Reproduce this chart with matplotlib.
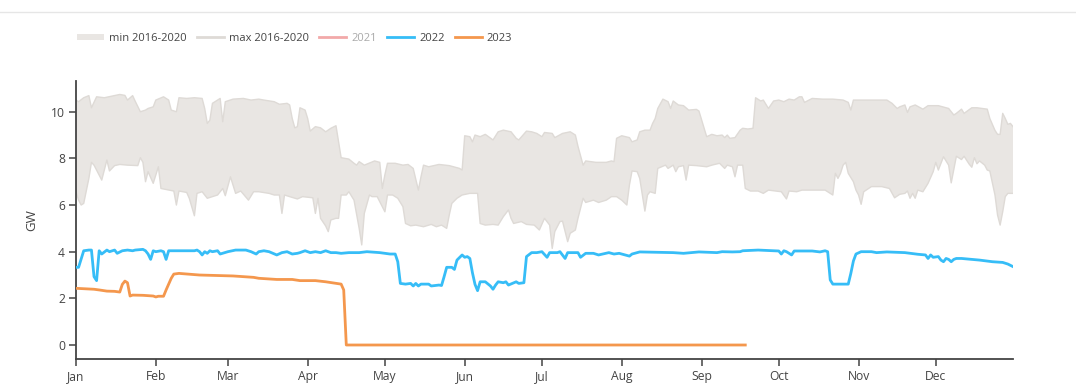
import numpy as np
import pandas as pd
import matplotlib
matplotlib.use("Agg")
import matplotlib.pyplot as plt
import matplotlib.dates as mdates
from matplotlib.lines import Line2D
from matplotlib.patches import Patch

plt.rcParams["font.family"] = ["Open Sans", "DejaVu Sans"]

# Daily nuclear availability in GW, indexed by day of year (0 = 1 Jan)
max_day = [0, 1, 3, 5, 6, 8, 11, 17, 19, 20, 22, 23, 25, 27, 28, 30, 31, 34, 36, 37,
           39, 40, 43, 46, 49, 50, 51, 52, 53, 56, 57, 58, 61, 65, 68, 71, 73, 77, 79, 82,
           83, 84, 85, 86, 87, 89, 90, 91, 93, 95, 97, 99, 101, 102, 103, 106, 108, 109, 110, 112,
           116, 118, 119, 120, 121, 124, 127, 129, 131, 133, 134, 135, 137, 141, 145, 149, 150, 151, 153, 154,
           155, 157, 159, 162, 164, 166, 169, 171, 172, 175, 177, 179, 181, 182, 185, 186, 189, 192, 194, 195,
           197, 198, 202, 206, 208, 209, 210, 212, 215, 216, 218, 219, 221, 223, 224, 225, 226, 228, 230, 231,
           232, 234, 236, 238, 241, 242, 245, 247, 249, 251, 252, 253, 254, 256, 258, 259, 261, 263, 264, 266,
           267, 269, 271, 273, 275, 277, 279, 281, 282, 283, 286, 290, 294, 298, 300, 301, 302, 307, 311, 315,
           317, 319, 320, 322, 323, 324, 326, 329, 331, 335, 337, 339, 341, 342, 344, 345, 348, 350, 352, 354,
           355, 357, 358, 359, 360, 361, 362, 363, 364]
max_gw = [10.50, 10.43, 10.60, 10.69, 10.17, 10.64, 10.60, 10.74, 10.70, 10.50, 10.69, 10.45, 10.00, 10.07, 10.14, 10.21, 10.50, 10.64, 10.50, 10.07,
          10.00, 10.60, 10.57, 10.60, 10.57, 10.14, 9.50, 9.64, 10.36, 10.57, 9.57, 10.43, 10.54, 10.57, 10.50, 10.54, 10.50, 10.43, 10.32, 10.36,
          10.29, 9.71, 9.31, 9.36, 10.17, 10.07, 9.71, 9.17, 9.36, 9.31, 9.14, 9.29, 9.40, 8.71, 8.03, 7.97, 7.79, 7.71, 7.86, 7.71,
          7.89, 7.83, 6.71, 7.30, 7.79, 7.79, 7.71, 7.74, 7.57, 6.64, 7.20, 7.71, 7.64, 7.74, 7.69, 7.57, 7.50, 8.97, 8.93, 8.71,
          9.00, 8.93, 9.03, 8.79, 9.14, 9.21, 9.14, 8.86, 8.79, 9.17, 9.14, 9.07, 8.93, 9.11, 9.07, 8.89, 9.07, 9.14, 9.00, 8.52,
          7.71, 7.89, 7.83, 7.83, 7.89, 7.86, 8.86, 8.97, 8.89, 8.71, 8.79, 9.14, 9.21, 9.21, 9.50, 9.71, 10.14, 10.54, 10.43, 10.14,
          10.46, 10.29, 10.26, 10.07, 10.10, 10.03, 8.93, 9.03, 8.97, 9.00, 8.89, 9.00, 8.86, 8.89, 9.21, 9.29, 9.26, 9.29, 10.60, 10.46,
          10.50, 10.14, 10.46, 10.50, 10.43, 10.54, 10.50, 10.64, 10.64, 10.40, 10.57, 10.54, 10.54, 10.50, 10.40, 10.07, 10.50, 10.50, 10.50, 10.50,
          10.36, 10.14, 10.21, 10.29, 9.97, 10.21, 10.29, 10.11, 10.26, 10.26, 10.20, 10.14, 9.86, 9.93, 10.11, 9.93, 10.17, 10.17, 10.14, 10.11,
          9.71, 9.20, 9.03, 9.03, 9.93, 9.71, 9.46, 9.50, 9.36]

min_day = [0, 1, 2, 3, 5, 6, 7, 10, 12, 13, 15, 17, 20, 24, 25, 26, 27, 28, 30, 32,
           33, 38, 39, 40, 43, 44, 46, 47, 49, 51, 53, 55, 57, 58, 60, 62, 64, 67, 69, 71,
           75, 77, 79, 80, 81, 83, 86, 88, 92, 93, 94, 95, 97, 98, 99, 101, 102, 103, 105, 106,
           108, 110, 111, 112, 114, 115, 117, 119, 120, 121, 123, 125, 127, 128, 130, 132, 135, 138, 140, 142,
           144, 145, 146, 148, 150, 153, 156, 157, 159, 162, 164, 166, 168, 169, 170, 173, 175, 178, 180, 182,
           184, 185, 186, 188, 189, 191, 192, 194, 195, 197, 198, 201, 203, 206, 208, 210, 212, 214, 215, 216,
           218, 219, 221, 222, 223, 225, 226, 229, 230, 232, 233, 234, 236, 237, 238, 241, 245, 247, 250, 252,
           253, 255, 256, 257, 259, 260, 262, 265, 267, 269, 272, 274, 276, 277, 280, 282, 287, 291, 293, 294,
           295, 296, 297, 298, 299, 300, 302, 303, 304, 305, 306, 309, 313, 316, 318, 320, 322, 323, 324, 325,
           326, 327, 329, 331, 333, 334, 335, 337, 339, 340, 342, 344, 345, 347, 348, 349, 350, 351, 353, 354,
           355, 357, 358, 359, 360, 361, 362, 364]
min_gw = [6.57, 6.21, 6.00, 6.07, 7.14, 7.83, 7.71, 7.07, 7.93, 7.46, 7.69, 7.74, 7.71, 7.69, 8.03, 7.83, 7.00, 7.43, 6.93, 7.64,
          6.71, 6.60, 6.00, 6.60, 6.54, 6.29, 5.54, 6.50, 6.57, 6.29, 6.36, 6.43, 6.71, 6.40, 7.21, 6.50, 6.60, 6.21, 6.57, 6.57,
          6.50, 6.43, 6.43, 5.64, 6.43, 6.36, 6.26, 6.36, 6.31, 5.64, 6.29, 5.43, 5.10, 4.86, 5.36, 5.43, 5.43, 6.43, 6.43, 6.57,
          6.21, 5.00, 4.29, 5.64, 6.43, 6.36, 6.36, 5.93, 5.71, 6.43, 6.43, 6.29, 5.93, 5.21, 5.11, 5.14, 5.07, 5.17, 5.07, 5.14,
          5.00, 5.57, 6.07, 6.29, 6.43, 6.50, 6.50, 5.21, 5.14, 5.17, 5.14, 5.50, 5.79, 5.43, 5.21, 5.29, 5.17, 5.14, 4.93, 5.43,
          5.14, 4.14, 4.86, 5.29, 5.31, 4.43, 4.79, 4.93, 5.43, 6.29, 6.11, 6.21, 6.11, 6.21, 6.36, 6.36, 6.21, 6.00, 6.86, 7.46,
          7.43, 7.14, 5.74, 6.43, 6.57, 6.50, 7.57, 7.71, 7.57, 7.71, 7.43, 7.64, 7.69, 7.07, 7.71, 7.69, 7.64, 7.71, 7.79, 7.57,
          7.71, 7.64, 7.21, 7.71, 7.71, 6.71, 6.60, 6.60, 6.50, 6.64, 6.60, 6.57, 6.26, 6.60, 6.57, 6.64, 6.64, 6.64, 6.50, 6.43,
          7.36, 7.14, 7.36, 7.71, 7.83, 7.36, 7.00, 6.64, 6.43, 6.03, 6.57, 6.79, 6.79, 6.71, 6.31, 6.46, 6.50, 6.60, 6.29, 6.50,
          6.29, 6.64, 6.57, 6.93, 7.43, 7.83, 7.50, 8.07, 7.71, 6.95, 8.09, 7.95, 8.09, 7.75, 7.62, 8.03, 7.77, 7.89, 7.71, 7.50,
          7.46, 6.43, 5.57, 5.14, 5.71, 6.36, 6.50, 6.50]

y2022_day = [0, 1, 3, 5, 6, 7, 8, 9, 10, 12, 13, 15, 16, 18, 20, 22, 23, 26, 27, 28,
             29, 30, 31, 33, 34, 35, 36, 39, 46, 47, 48, 49, 50, 51, 52, 53, 55, 56, 59, 62,
             66, 68, 70, 71, 73, 75, 78, 80, 82, 84, 86, 87, 89, 91, 93, 95, 97, 99, 101, 103,
             106, 110, 113, 118, 122, 124, 125, 126, 128, 130, 131, 132, 133, 134, 137, 138, 141, 142, 143, 144,
             146, 147, 148, 150, 151, 152, 153, 154, 155, 156, 157, 159, 161, 162, 163, 164, 166, 167, 168, 171,
             172, 174, 175, 177, 179, 181, 183, 184, 187, 188, 190, 191, 195, 196, 198, 201, 203, 207, 209, 211,
             215, 216, 219, 232, 236, 242, 249, 251, 255, 258, 259, 265, 273, 274, 275, 276, 278, 279, 286, 289,
             291, 292, 293, 294, 300, 301, 302, 303, 305, 309, 311, 315, 322, 327, 330, 331, 332, 333, 335, 336,
             337, 338, 339, 340, 341, 342, 344, 351, 356, 360, 362, 364]
y2022_gw = [3.33, 3.33, 4.04, 4.07, 4.07, 2.93, 2.76, 4.04, 3.90, 4.07, 4.00, 4.07, 3.93, 4.04, 4.07, 4.04, 4.07, 4.10, 4.04, 3.90,
            3.67, 4.04, 4.00, 4.04, 4.00, 3.67, 4.04, 4.04, 4.04, 4.07, 4.00, 3.86, 4.00, 3.93, 4.04, 4.00, 4.04, 3.90, 4.00, 4.07,
            4.07, 4.00, 3.90, 4.00, 4.04, 4.00, 3.86, 3.96, 4.00, 3.90, 3.93, 3.96, 4.04, 3.96, 4.00, 3.96, 4.04, 3.96, 3.96, 3.93,
            3.96, 3.96, 4.00, 3.96, 3.90, 3.90, 3.57, 2.64, 2.61, 2.64, 2.53, 2.64, 2.53, 2.61, 2.61, 2.53, 2.57, 2.55, 2.93, 3.33,
            3.33, 3.24, 3.64, 3.86, 3.76, 3.79, 3.71, 3.10, 2.60, 2.33, 2.71, 2.71, 2.53, 2.39, 2.57, 2.71, 2.67, 2.71, 2.57, 2.71,
            2.64, 2.67, 3.79, 3.96, 3.96, 4.00, 3.76, 3.96, 3.96, 4.00, 3.71, 3.96, 3.96, 3.76, 3.93, 3.93, 3.86, 3.96, 3.90, 3.93,
            3.81, 3.90, 3.99, 3.96, 3.93, 3.99, 3.96, 4.00, 3.99, 4.00, 4.04, 4.07, 4.03, 3.90, 4.04, 4.00, 3.86, 4.03, 4.03, 3.99,
            4.04, 4.00, 2.79, 2.61, 2.61, 3.07, 3.60, 3.90, 4.00, 4.00, 3.96, 3.99, 3.96, 3.89, 3.86, 3.71, 3.86, 3.76, 3.79, 3.64,
            3.57, 3.71, 3.67, 3.57, 3.67, 3.71, 3.71, 3.64, 3.57, 3.54, 3.47, 3.36]

y2023_day = [0, 7, 9, 12, 15, 17, 18, 19, 20, 21, 22, 26, 30, 31, 32, 34, 35, 37, 38, 40,
             48, 61, 69, 71, 78, 84, 87, 93, 97, 103, 104, 105, 260]
y2023_gw = [2.43, 2.39, 2.36, 2.31, 2.30, 2.27, 2.60, 2.74, 2.67, 2.10, 2.14, 2.13, 2.10, 2.06, 2.09, 2.09, 2.36, 2.86, 3.04, 3.07,
            3.00, 2.96, 2.90, 2.86, 2.81, 2.81, 2.76, 2.76, 2.71, 2.61, 2.36, 0.00, 0.00]

legend_labels = ["min 2016-2020", "max 2016-2020", "2021", "2022", "2023"]
yticks = [0, 2, 4, 6, 8, 10]

BAND_FILL = "#e9e6e3"
BAND_EDGE = "#dedad6"
C2021 = "#f2a9a9"
C2022 = "#36bdf7"
C2023 = "#f4974d"
TXT = "#444444"

year_start = pd.Timestamp("2022-01-01")


def to_num(days):
    return mdates.date2num(year_start + pd.to_timedelta(np.asarray(days), unit="D"))


W, H = 1076, 390
fig = plt.figure(figsize=(W / 100, H / 100), dpi=100)
ax = fig.add_axes([76 / W, 1 - 359 / H, (1013 - 76) / W, (359 - 80.7) / H])

# Envelope of the 2016-2020 range as one closed polygon
mx, mn = to_num(max_day), to_num(min_day)
poly_x = np.concatenate([mx, mn[::-1]])
poly_y = np.concatenate([max_gw, min_gw[::-1]])
ax.fill(poly_x, poly_y, color=BAND_FILL, lw=0, zorder=1)
ax.plot(mx, max_gw, color=BAND_EDGE, lw=1.0, zorder=2)
ax.plot(mn, min_gw, color=BAND_EDGE, lw=1.0, zorder=2)

ax.plot(to_num(y2022_day), y2022_gw, color=C2022, lw=2.0, zorder=3, solid_joinstyle="round")
ax.plot(to_num(y2023_day), y2023_gw, color=C2023, lw=2.0, zorder=4, solid_joinstyle="round")

ax.set_xlim(to_num([0])[0], to_num([364])[0])
ax.set_ylim(-0.6, 11.33)
ax.xaxis.set_major_locator(mdates.MonthLocator())
ax.xaxis.set_major_formatter(mdates.DateFormatter("%b"))
ax.set_yticks(yticks)

for side in ["top", "right"]:
    ax.spines[side].set_visible(False)
for side in ["left", "bottom"]:
    ax.spines[side].set_color(TXT)
    ax.spines[side].set_linewidth(1.3)
ax.tick_params(axis="both", colors=TXT, labelcolor=TXT, labelsize=8.7, length=5, width=1.1)
ax.tick_params(axis="x", pad=3)
ax.tick_params(axis="y", pad=3)
ax.set_ylabel("GW", color=TXT, fontsize=9.5)
ax.yaxis.set_label_coords((38 - 76) / (1013 - 76), 0.5)

# Legend row
handles = [
    Patch(facecolor=BAND_FILL, edgecolor="none"),
    Line2D([], [], color=BAND_EDGE, lw=2),
    Line2D([], [], color=C2021, lw=2),
    Line2D([], [], color=C2022, lw=2),
    Line2D([], [], color=C2023, lw=2),
]
leg = fig.legend(handles, legend_labels, loc="center left", bbox_to_anchor=(77 / W, 1 - 38.5 / H),
                 ncol=5, frameon=False, fontsize=8.0, handlelength=2.45, handleheight=0.55,
                 handletextpad=0.45, columnspacing=0.9, borderpad=0, borderaxespad=0)
for t in leg.get_texts():
    t.set_color(TXT)
leg.get_texts()[2].set_color("#aaaaaa")

# Card border at the top
fig.add_artist(Line2D([0, 1], [1 - 12.3 / H] * 2, color="#e6e6e6", lw=1, transform=fig.transFigure))

fig.savefig("out.png", dpi=100)
